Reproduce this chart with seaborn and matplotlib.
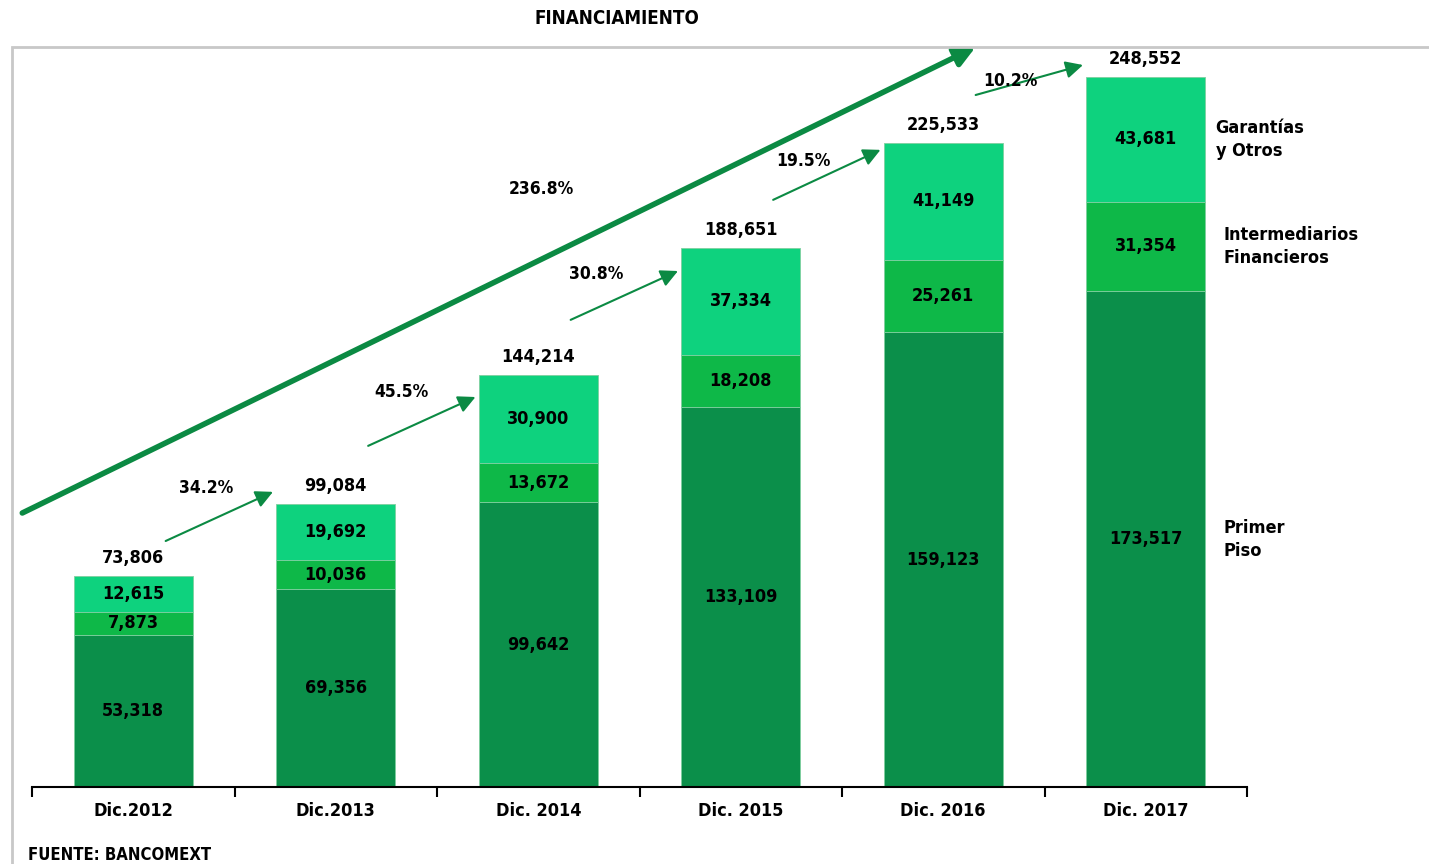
import matplotlib
matplotlib.use('Agg')
import matplotlib.pyplot as plt
import seaborn as sns
import pandas as pd
from matplotlib.patches import Rectangle

# Datos
categorias = ['Dic.2012', 'Dic.2013', 'Dic. 2014', 'Dic. 2015', 'Dic. 2016', 'Dic. 2017']
primer_piso = [53318, 69356, 99642, 133109, 159123, 173517]
intermediarios = [7873, 10036, 13672, 18208, 25261, 31354]
garantias = [12615, 19692, 30900, 37334, 41149, 43681]
totales = [73806, 99084, 144214, 188651, 225533, 248552]
crecimiento = ['34.2%', '45.5%', '30.8%', '19.5%', '10.2%']
crecimiento_total = '236.8%'
series = ['Primer\nPiso', 'Intermediarios\nFinancieros', 'Garantías\ny Otros']

# flechas entre barras (y inicio, y fin, etiqueta x/y)
flecha_y0 = [86100, 119400, 163500, 205500, 242200]
flecha_y1 = [103300, 136500, 180600, 223000, 252700]
etiqueta_x = [0.36, 1.323, 2.285, 3.31, 4.33]
etiqueta_y = [104700, 138300, 179600, 219100, 247100]

sns.set_style('white')
plt.rcParams['font.family'] = ['DejaVu Sans']
plt.rcParams['font.stretch'] = 'condensed'
plt.rcParams['font.weight'] = 'bold'
plt.rcParams['text.color'] = 'black'
plt.rcParams['xtick.color'] = 'black'

c_oscuro = '#0b8f4a'
c_medio = '#0eb848'
c_claro = '#0ed27e'
c_flecha = '#0b8a43'

df = pd.DataFrame({'cat': categorias, 'pp': primer_piso, 'inter': intermediarios, 'gar': garantias})

fig = plt.figure(figsize=(14.29, 8.64), dpi=100)
ax = fig.add_axes([32 / 1429, 77 / 864, (1247 - 32) / 1429, (787 - 47) / 864])

fondo1 = df['pp']
fondo2 = df['pp'] + df['inter']
sns.barplot(data=df, x='cat', y='pp', color=c_oscuro, width=0.59, ax=ax,
            edgecolor='#7fcf9f', linewidth=0.6, saturation=1)
sns.barplot(data=df, x='cat', y='inter', bottom=fondo1, color=c_medio, width=0.59, ax=ax,
            edgecolor='#7fcf9f', linewidth=0.6, saturation=1)
sns.barplot(data=df, x='cat', y='gar', bottom=fondo2, color=c_claro, width=0.59, ax=ax,
            edgecolor='#7fcf9f', linewidth=0.6, saturation=1)

ax.set_xlim(-0.5, 5.5)
ax.set_ylim(0, 259000)
ax.set_xlabel('')
ax.set_ylabel('')
ax.set_yticks([])
for s in ['top', 'right', 'left']:
    ax.spines[s].set_visible(False)
ax.spines['bottom'].set_color('black')
ax.spines['bottom'].set_linewidth(1.5)
ax.set_xticks(range(len(categorias)))
ax.set_xticklabels(categorias, fontsize=13, fontweight='bold', color='black')
ax.set_xticks([i - 0.5 for i in range(len(categorias) + 1)], minor=True)
ax.tick_params(axis='x', which='major', length=0, pad=11)
ax.tick_params(axis='x', which='minor', bottom=True, length=7, width=1.5, color='black', direction='out')

# etiquetas de segmentos y totales
for i in range(len(categorias)):
    ax.text(i, primer_piso[i] / 2, f'{primer_piso[i]:,}', ha='center', va='center', fontsize=13, fontweight='bold')
    ax.text(i, fondo1[i] + intermediarios[i] / 2, f'{intermediarios[i]:,}', ha='center', va='center', fontsize=13, fontweight='bold')
    ax.text(i, fondo2[i] + garantias[i] / 2, f'{garantias[i]:,}', ha='center', va='center', fontsize=13, fontweight='bold')
    ax.text(i, totales[i] + 6300, f'{totales[i]:,}', ha='center', va='center', fontsize=13, fontweight='bold')

# flechas de crecimiento
for i in range(len(crecimiento)):
    ax.annotate('', xy=(i + 0.69, flecha_y1[i]), xytext=(i + 0.16, flecha_y0[i]),
                arrowprops=dict(arrowstyle='-|>', color=c_flecha, lw=1.5, mutation_scale=26, shrinkA=0, shrinkB=0))
    ax.text(etiqueta_x[i], etiqueta_y[i], crecimiento[i], ha='center', va='center', fontsize=12.5, fontweight='bold')

ax.annotate('', xy=(4.16, 259000), xytext=(-0.548, 95900),
            arrowprops=dict(arrowstyle='-|>', color=c_flecha, lw=4, mutation_scale=30, shrinkA=0, shrinkB=0),
            annotation_clip=False)
ax.text(2.014, 209300, crecimiento_total, ha='center', va='center', fontsize=12.5, fontweight='bold')

# etiquetas de series
ax.text(5.385, primer_piso[5] / 2, series[0], ha='left', va='center', fontsize=13, fontweight='bold', linespacing=1.35, clip_on=False)
ax.text(5.385, fondo1[5] + intermediarios[5] / 2, series[1], ha='left', va='center', fontsize=13, fontweight='bold', linespacing=1.35, clip_on=False)
ax.text(5.345, fondo2[5] + garantias[5] / 2, series[2], ha='left', va='center', fontsize=13, fontweight='bold', linespacing=1.35, clip_on=False)

# marco gris
fig.patches.append(Rectangle((12 / 1429, -0.1), 1.2, 1 - 47 / 864 + 0.1, transform=fig.transFigure,
                             fill=False, edgecolor='#c8c8c8', linewidth=2, zorder=0))

fig.text(617 / 1429, 1 - 18 / 864, 'FINANCIAMIENTO', ha='center', va='center', fontsize=13.5, fontweight='bold')
fig.text(28 / 1429, 1 - 855 / 864, 'FUENTE: BANCOMEXT', ha='left', va='center', fontsize=12, fontweight='bold')

fig.savefig('out.png', dpi=100)
